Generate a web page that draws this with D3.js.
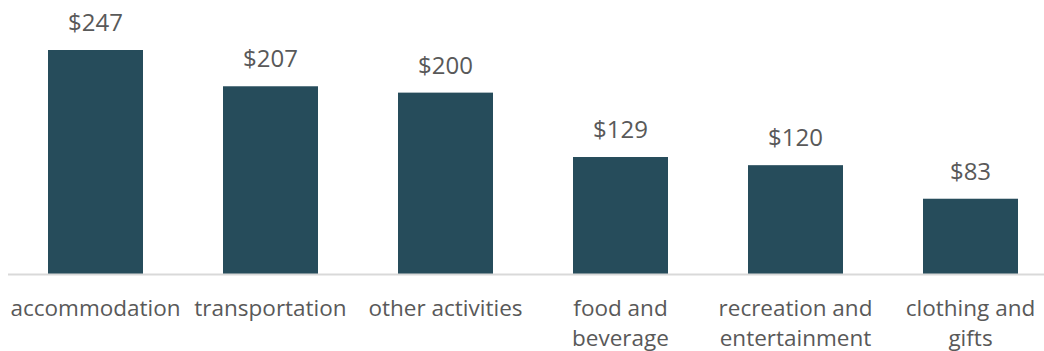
<!DOCTYPE html>
<html>
<head>
<meta charset="utf-8">
<script src="https://cdn.jsdelivr.net/npm/d3@7"></script>
<style>
  html, body { margin: 0; padding: 0; background: #fff; }
  svg { display: block; }
  text { font-family: "Open Sans", Lato, sans-serif; fill: #595959; }
</style>
</head>
<body>
<svg id="chart" width="1044" height="351"></svg>
<script>
// Average spending per category
const categories = ["accommodation", "transportation", "other activities", "food and beverage", "recreation and entertainment", "clothing and gifts"];
const categoryLines = [["accommodation"], ["transportation"], ["other activities"], ["food and", "beverage"], ["recreation and", "entertainment"], ["clothing and", "gifts"]];
const values = [247, 207, 200, 129, 120, 83];

const width = 1044, height = 351;
const baseline = 274;

const svg = d3.select("#chart");

const x = d3.scaleBand()
  .domain(categories)
  .range([8, 1058])
  .paddingInner(80 / 175)
  .paddingOuter(40 / 175);

const y = d3.scaleLinear()
  .domain([0, 247])
  .range([baseline, 50]);

// bars
svg.append("g")
  .selectAll("rect")
  .data(values)
  .join("rect")
  .attr("x", (d, i) => x(categories[i]))
  .attr("y", d => y(d))
  .attr("width", x.bandwidth())
  .attr("height", d => baseline - y(d))
  .attr("fill", "#264c5b");

// baseline axis
svg.append("line")
  .attr("x1", 8).attr("x2", width)
  .attr("y1", baseline + 0.5).attr("y2", baseline + 0.5)
  .attr("stroke", "#d9d9d9")
  .attr("stroke-width", 2);

// value labels
svg.append("g")
  .selectAll("text")
  .data(values)
  .join("text")
  .attr("x", (d, i) => x(categories[i]) + x.bandwidth() / 2)
  .attr("y", d => y(d) - 19)
  .attr("text-anchor", "middle")
  .style("font-size", "24px")
  .text(d => "$" + d);

// category labels
const cat = svg.append("g")
  .selectAll("text")
  .data(categories)
  .join("text")
  .attr("x", d => x(d) + x.bandwidth() / 2)
  .attr("y", 316)
  .attr("text-anchor", "middle")
  .style("font-size", "22.5px");

cat.selectAll("tspan")
  .data((d, i) => categoryLines[i])
  .join("tspan")
  .attr("x", function () { return d3.select(this.parentNode).attr("x"); })
  .attr("dy", (d, j) => j === 0 ? 0 : 30)
  .text(d => d);
</script>
</body>
</html>
